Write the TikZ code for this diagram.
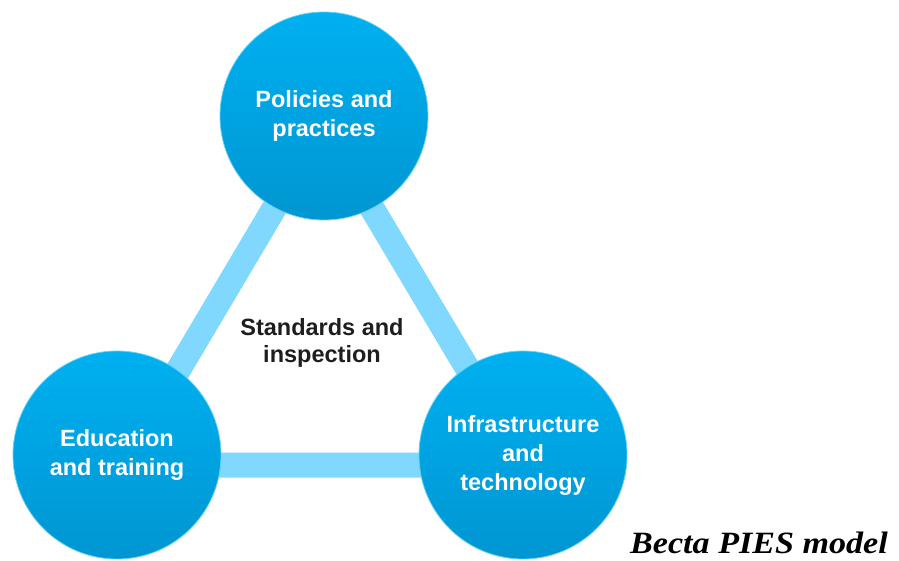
\documentclass[tikz,border=0pt]{standalone}
\usepackage{fontspec}
\setmainfont{Liberation Sans}
\newfontfamily\captionfont{Liberation Serif}
\definecolor{circtop}{RGB}{0,176,240}
\definecolor{circbot}{RGB}{0,150,210}
\definecolor{barblue}{RGB}{128,216,255}
\definecolor{darktext}{RGB}{30,30,30}
\begin{document}
\begin{tikzpicture}[x=1pt,y=-1pt,
  pies/.style={circle,minimum size=208pt,inner sep=0pt,top color=circtop,bottom color=circbot,
    draw=circtop!60!white,line width=0.8pt,text=white,align=center,
    font=\fontsize{23.5}{29}\selectfont\bfseries},
  bar/.style={line width=25pt,barblue,line join=miter},
  centertext/.style={align=center,text=darktext,font=\fontsize{23.5}{27}\selectfont\bfseries},
  caption/.style={anchor=base west,inner sep=0pt,font=\fontsize{31}{34}\selectfont\captionfont\bfseries\itshape}]
\useasboundingbox (0,0) rectangle (899,560);
\coordinate (va) at (323,126);
\coordinate (vb) at (122,465);
\coordinate (vc) at (525,465);
\draw[bar] (va) -- (vb) -- (vc) -- cycle;
\node[pies] (pol) at (324,116) {Policies and\\practices};
\node[pies] (edu) at (117,455) {Education\\and training};
\node[pies] (inf) at (523,455) {Infrastructure\\and\\technology};
\node[centertext] (std) at (322,343) {Standards and\\inspection};
\node[caption] (cap) at (630,553) {\scalebox{1.1}[1]{Becta PIES model}};
\end{tikzpicture}
\end{document}
